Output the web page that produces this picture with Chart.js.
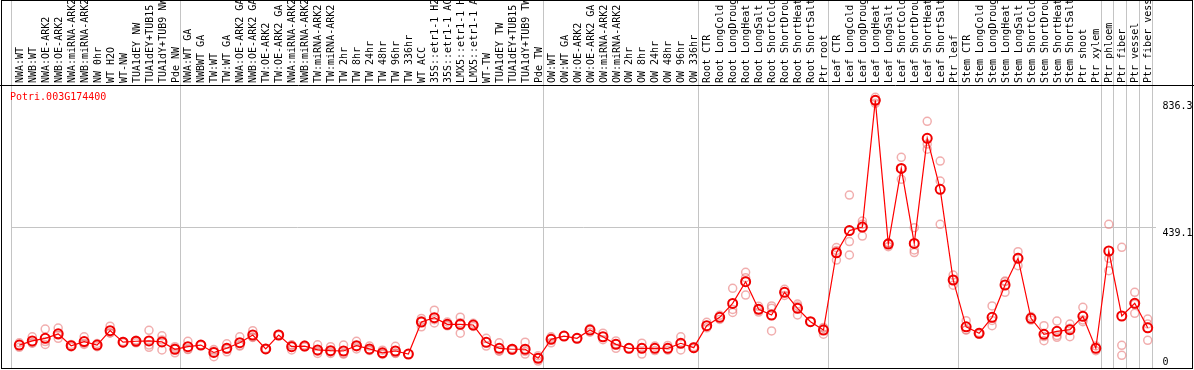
<!DOCTYPE html>
<html>
<head>
<meta charset="utf-8">
<script src="https://cdn.jsdelivr.net/npm/chart.js@4"></script>
<style>
  html, body { margin: 0; padding: 0; background: #ffffff; }
  #wrap { width: 1194px; height: 370px; }
</style>
</head>
<body>
<div id="wrap"><canvas id="c" width="1194" height="370"></canvas></div>
<script>
const geneId = 'Potri.003G174400';

const categories = [
  'NWA:WT','NWB:WT','NWA:OE-ARK2','NWB:OE-ARK2','NWA:miRNA-ARK2','NWB:miRNA-ARK2','NW 0hr','WT H2O','WT-NW',
  'TUA1dEY NW','TUA1dEY+TUB15 NW','TUA1dY+TUB9 NW','Pde NW',
  'NWA:WT GA','NWBWT GA','TW:WT','TW:WT GA','NWA:OE-ARK2 GA','NWB:OE-ARK2 GA','TW:OE-ARK2','TW:OE-ARK2 GA',
  'NWA:miRNA-ARK2 GA','NWB:miRNA-ARK2 GA','TW:miRNA-ARK2','TW:miRNA-ARK2 GA','TW 2hr','TW 8hr','TW 24hr','TW 48hr',
  'TW 96hr','TW 336hr','WT ACC','35S::etr1-1 H2O','35S::etr1-1 ACC','LMX5::etr1-1 H2O','LMX5::etr1-1 ACC','WT-TW',
  'TUA1dEY TW','TUA1dEY+TUB15 TW','TUA1dY+TUB9 TW','Pde TW',
  'OW:WT','OW:WT GA','OW:OE-ARK2','OW:OE-ARK2 GA','OW:miRNA-ARK2','OW:miRNA-ARK2 GA','OW 2hr','OW 8hr','OW 24hr',
  'OW 48hr','OW 96hr','OW 336hr',
  'Root CTR','Root LongCold','Root LongDrought','Root LongHeat','Root LongSalt','Root ShortCold','Root ShortDrought',
  'Root ShortHeat','Root ShortSalt','Ptr root',
  'Leaf CTR','Leaf LongCold','Leaf LongDrought','Leaf LongHeat','Leaf LongSalt','Leaf ShortCold','Leaf ShortDrought',
  'Leaf ShortHeat','Leaf ShortSalt','Ptr leaf',
  'Stem CTR','Stem LongCold','Stem LongDrought','Stem LongHeat','Stem LongSalt','Stem ShortCold','Stem ShortDrought',
  'Stem ShortHeat','Stem ShortSalt','Ptr shoot','Ptr xylem',
  'Ptr phloem','Ptr fiber','Ptr vessel','Ptr fiber vessel'
];

const means = [
  73, 86, 94, 108, 71, 84, 73, 118, 82, 85, 86, 83, 60,
  68, 73, 50, 63, 80.5, 104.5, 61, 104.5, 68, 70, 58, 55.5, 54.6, 71, 61, 49, 54.6, 45,
  145, 158.5, 137.8, 137.8, 135.6, 81.6, 63, 60, 60, 32,
  91, 101, 94, 120, 99, 75.4, 63, 63, 63, 63, 78.6, 65,
  133.5, 159.6, 203, 270.7, 184.6, 166.8, 237.6, 187.7, 146, 120,
  361, 430, 441, 836.3, 388, 624, 390, 717.8, 558.8, 276,
  130, 109.7, 159.6, 260.4, 343.6, 156.5, 106.6, 116, 121, 162.7, 63,
  366.4, 163.7, 203.3, 127
];

const replicates = [
  [80, 66], [99, 79, 80], [123, 75, 84], [126, 94, 104], [75, 67], [99, 75, 78], [78, 68], [132, 111, 111], [84, 80],
  [88, 80, 87], [119, 73, 66], [102, 58, 89], [68, 49, 63],
  [85, 60, 59], [74, 72], [59, 37, 54], [77, 52, 60], [99, 72, 70], [118, 98, 97], [62, 60], [106, 103],
  [73, 58, 73], [73, 67], [74, 47, 53], [68, 47, 51], [73, 45, 46], [85, 67, 61], [70, 56, 57], [57, 44, 46],
  [69, 47, 48], [45], [156, 130, 149], [182, 152, 142], [145, 133, 135], [160, 110, 143], [141, 131], [94, 70],
  [80, 54, 55], [62, 58], [82, 45, 53], [40, 23, 33],
  [99, 80, 94], [101], [94], [113, 125], [110, 90], [86, 63, 77], [63], [79, 45, 65], [70, 56],
  [72, 57], [99, 58, 79], [68, 62],
  [144, 127], [166, 153], [250, 184, 175], [229, 283, 300], [194, 176, 184], [195, 117, 188], [247, 228],
  [195, 167, 201], [146], [107, 128, 125],
  [377, 338, 368], [541, 396, 354], [460, 413, 450], [845.6, 827, 836.3], [392, 380, 392], [658.6, 590, 623.4],
  [439, 369.5, 361.5], [770.8, 700, 684], [647, 584.7, 449.6], [291.5, 260, 276],
  [149, 120, 121], [107, 112], [195, 133.5, 150], [272.8, 237.6, 270.8], [364.2, 320.6, 346], [162, 151],
  [133.5, 86.7, 99.6], [148, 97.3, 102.7], [138.8, 99, 125.2], [190.8, 146, 151.3], [55.5, 70.5],
  [449.6, 343.6, 305], [378, 72.3, 41], [237.6, 172, 200.3], [154.3, 87.9, 138.8]
];

// index of the first sample of each group (last entry = total count)
const groupStarts = [0, 13, 41, 53, 63, 73, 84, 85, 86, 87, 88];

const yTickValues = [0, 439.1, 836.3];
const yTickLabels = ['0', '439.1', '836.3'];
const yMax = 884.1;
</script>
<script>
const MONO = "'DejaVu Sans Mono', 'Liberation Mono', monospace";
const edgeOffset = -0.6;
const groupEdges = groupStarts.map(s => s + edgeOffset);

const meanPoints = means.map((v, i) => ({ x: i, y: v }));
const repPoints = [];
replicates.forEach((arr, i) => arr.forEach(v => repPoints.push({ x: i, y: v })));

const framePlugin = {
  id: 'frame',
  afterDraw(chart) {
    const ctx = chart.ctx;
    ctx.save();
    ctx.strokeStyle = '#000000';
    ctx.lineWidth = 1;
    ctx.strokeRect(1.5, 0.5, 1191, 368);
    ctx.beginPath();
    ctx.moveTo(0, 85.5);
    ctx.lineTo(1194, 85.5);
    ctx.stroke();
    ctx.fillStyle = '#ff0000';
    ctx.font = '10px ' + MONO;
    ctx.textBaseline = 'middle';
    ctx.textAlign = 'left';
    ctx.fillText(geneId, 10, 97.5);
    ctx.restore();
  }
};

new Chart(document.getElementById('c'), {
  data: {
    datasets: [
      {
        type: 'line',
        label: geneId,
        data: meanPoints,
        borderColor: '#ff0000',
        borderWidth: 1.2,
        tension: 0,
        pointRadius: 4.5,
        pointBorderWidth: 2,
        pointBorderColor: '#f00000',
        pointBackgroundColor: 'rgba(255,255,255,0)',
        order: 0
      },
      {
        type: 'scatter',
        label: 'replicates',
        data: repPoints,
        showLine: false,
        pointRadius: 4,
        pointBorderWidth: 1.5,
        borderColor: 'rgba(232,120,120,0.6)',
        pointBorderColor: 'rgba(232,120,120,0.6)',
        backgroundColor: 'rgba(255,255,255,0)',
        order: 1
      }
    ]
  },
  options: {
    responsive: false,
    animation: false,
    devicePixelRatio: 1,
    layout: { autoPadding: false, padding: { left: 11.5, right: 0, top: 0, bottom: 1.5 } },
    plugins: { legend: { display: false }, tooltip: { enabled: false }, title: { display: false } },
    scales: {
      x: {
        type: 'linear',
        position: 'top',
        min: edgeOffset,
        max: categories.length - 1 - edgeOffset,
        afterBuildTicks: (scale) => {
          const t = categories.map((_, i) => ({ value: i }));
          groupEdges.forEach(v => t.push({ value: v }));
          scale.ticks = t;
        },
        afterFit: (scale) => {
          scale.height = 85;
          scale.paddingLeft = 0; scale.paddingRight = 0;
        },
        ticks: {
          autoSkip: false,
          minRotation: 90,
          maxRotation: 90,
          padding: -83,
          labelOffset: 13,
          color: '#000000',
          font: { family: MONO, size: 10 },
          callback: (value) => Number.isInteger(value) ? categories[value] : ''
        },
        grid: {
          display: true,
          drawOnChartArea: true,
          drawTicks: true,
          tickLength: 85,
          lineWidth: 1,
          color: (ctx) => (ctx.tick && !Number.isInteger(ctx.tick.value)) ? '#c4c4c4' : 'rgba(0,0,0,0)'
        },
        border: { display: false }
      },
      y: {
        type: 'linear',
        position: 'right',
        min: 0,
        max: yMax,
        afterBuildTicks: (scale) => { scale.ticks = yTickValues.map(v => ({ value: v })); },
        afterFit: (scale) => {
          scale.width = 38.5;
          scale.paddingTop = 0; scale.paddingBottom = 0;
        },
        ticks: {
          padding: 7,
          labelOffset: 6,
          color: '#000000',
          font: { family: MONO, size: 10, lineHeight: 1.2 },
          callback: (value) => {
            const k = yTickValues.indexOf(value);
            const s = k >= 0 ? yTickLabels[k] : '';
            return value === 0 ? [s, '', ''] : s;
          }
        },
        grid: {
          drawTicks: false,
          color: (ctx) => (ctx.tick && ctx.tick.value === 439.1) ? '#c4c4c4' : 'rgba(0,0,0,0)'
        },
        border: { display: false }
      }
    }
  },
  plugins: [framePlugin]
});
</script>
</body>
</html>
